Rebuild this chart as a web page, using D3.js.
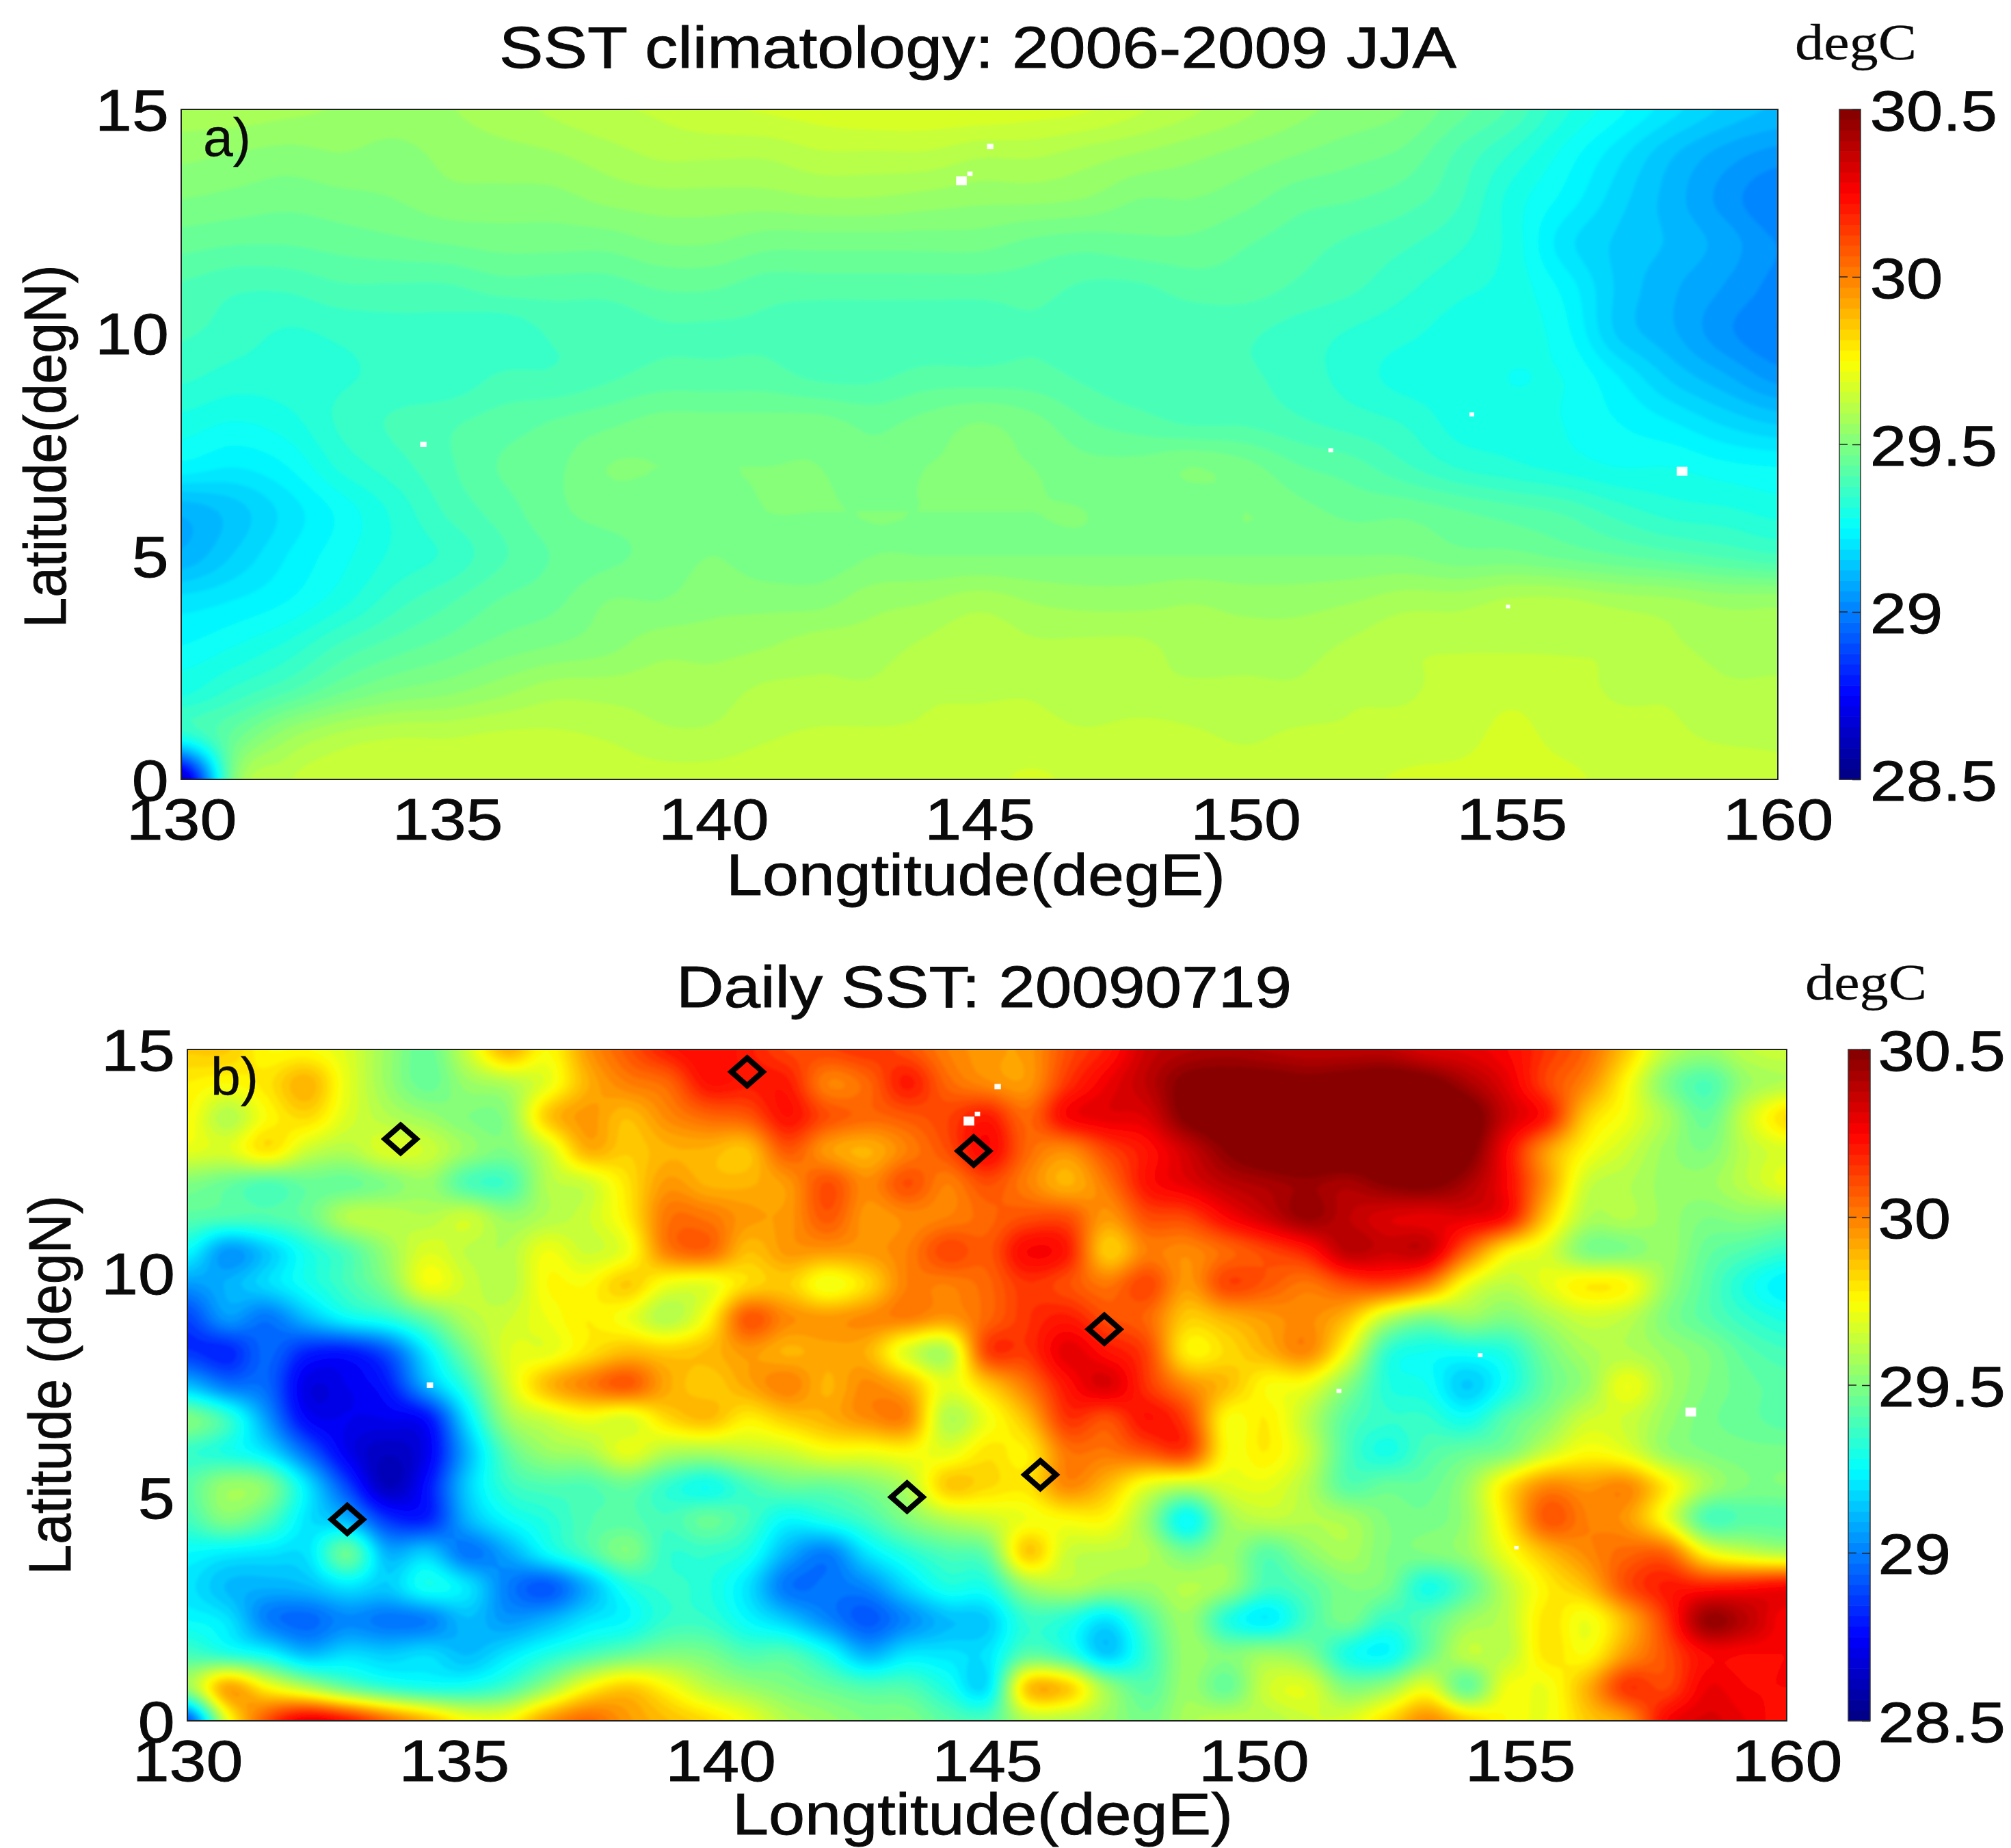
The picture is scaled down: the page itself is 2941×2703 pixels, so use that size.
<!DOCTYPE html>
<html>
<head>
<meta charset="utf-8">
<script src="https://cdn.jsdelivr.net/npm/d3@7"></script>
<style>
  body { margin: 0; background: #fff; }
  text { fill: #0a0a0a; stroke: #0a0a0a; stroke-width: 0.9px; font-family: "Liberation Sans", Arial, sans-serif; }
</style>
</head>
<body>
<div id="chart"></div>
<script>
// tick labels
const lonTicks = [130, 135, 140, 145, 150, 155, 160];
const latTicks = [0, 5, 10, 15];
const sstTicks = [28.5, 29, 29.5, 30, 30.5];

// panel a: JJA climatology, 1 deg grid, rows from 15N down to 0N, columns 130E to 160E
const climatology = [
  [29.58,29.58,29.57,29.56,29.55,29.56,29.58,29.6,29.62,29.63,29.65,29.66,29.67,29.68,29.68,29.68,29.67,29.66,29.63,29.6,29.57,29.54,29.52,29.5,29.45,29.4,29.32,29.26,29.2,29.15,29.12],
  [29.54,29.53,29.52,29.53,29.52,29.54,29.55,29.56,29.58,29.6,29.6,29.6,29.62,29.62,29.62,29.6,29.6,29.58,29.56,29.54,29.52,29.5,29.48,29.46,29.4,29.34,29.27,29.2,29.13,29.08,29.05],
  [29.5,29.49,29.48,29.49,29.5,29.52,29.52,29.52,29.54,29.55,29.55,29.55,29.56,29.56,29.55,29.54,29.54,29.53,29.5,29.5,29.48,29.45,29.44,29.42,29.38,29.3,29.24,29.17,29.11,29.05,29.0],
  [29.45,29.44,29.44,29.45,29.46,29.47,29.48,29.48,29.48,29.5,29.5,29.48,29.48,29.48,29.48,29.48,29.46,29.45,29.46,29.46,29.44,29.42,29.4,29.38,29.35,29.3,29.2,29.15,29.12,29.08,29.03],
  [29.4,29.38,29.38,29.4,29.4,29.4,29.42,29.42,29.42,29.44,29.44,29.42,29.42,29.42,29.42,29.42,29.42,29.4,29.4,29.42,29.42,29.4,29.38,29.35,29.32,29.3,29.24,29.15,29.1,29.06,29.02],
  [29.38,29.36,29.34,29.35,29.36,29.36,29.35,29.38,29.38,29.4,29.4,29.4,29.38,29.38,29.38,29.38,29.4,29.38,29.38,29.38,29.38,29.36,29.34,29.32,29.3,29.3,29.26,29.15,29.1,29.04,29.0],
  [29.35,29.33,29.33,29.34,29.35,29.35,29.38,29.38,29.4,29.42,29.42,29.42,29.4,29.4,29.42,29.42,29.42,29.4,29.38,29.38,29.38,29.36,29.33,29.3,29.3,29.28,29.28,29.22,29.15,29.1,29.05],
  [29.3,29.28,29.3,29.35,29.38,29.4,29.42,29.44,29.46,29.48,29.48,29.48,29.48,29.46,29.48,29.5,29.48,29.44,29.42,29.4,29.4,29.38,29.36,29.34,29.3,29.3,29.28,29.25,29.22,29.18,29.15],
  [29.24,29.22,29.25,29.32,29.36,29.4,29.44,29.46,29.5,29.5,29.5,29.5,29.5,29.48,29.5,29.5,29.5,29.48,29.48,29.5,29.48,29.44,29.42,29.38,29.34,29.32,29.3,29.28,29.28,29.26,29.25],
  [29.1,29.14,29.2,29.26,29.32,29.38,29.42,29.46,29.48,29.48,29.48,29.5,29.5,29.5,29.5,29.5,29.5,29.5,29.48,29.48,29.5,29.48,29.46,29.46,29.44,29.42,29.4,29.36,29.33,29.32,29.3],
  [29.1,29.16,29.22,29.27,29.32,29.35,29.4,29.44,29.46,29.48,29.5,29.48,29.48,29.5,29.5,29.5,29.5,29.5,29.5,29.5,29.5,29.5,29.5,29.5,29.48,29.48,29.46,29.44,29.42,29.4,29.38],
  [29.2,29.22,29.25,29.3,29.36,29.4,29.44,29.46,29.5,29.5,29.52,29.52,29.52,29.55,29.56,29.58,29.56,29.55,29.55,29.56,29.55,29.55,29.56,29.58,29.58,29.6,29.6,29.58,29.57,29.55,29.55],
  [29.25,29.28,29.32,29.38,29.42,29.45,29.48,29.5,29.52,29.55,29.55,29.56,29.58,29.58,29.6,29.62,29.6,29.6,29.6,29.58,29.58,29.58,29.6,29.62,29.62,29.62,29.62,29.62,29.6,29.58,29.58],
  [29.3,29.35,29.4,29.46,29.5,29.52,29.55,29.58,29.58,29.58,29.58,29.6,29.6,29.6,29.62,29.62,29.62,29.6,29.6,29.6,29.6,29.6,29.62,29.62,29.64,29.65,29.64,29.62,29.62,29.6,29.6],
  [29.32,29.45,29.55,29.6,29.62,29.62,29.63,29.63,29.62,29.6,29.6,29.62,29.63,29.63,29.63,29.64,29.64,29.63,29.64,29.63,29.62,29.63,29.63,29.64,29.65,29.66,29.65,29.64,29.63,29.62,29.62],
  [28.6,29.5,29.62,29.65,29.65,29.65,29.65,29.65,29.65,29.64,29.64,29.65,29.65,29.65,29.65,29.65,29.66,29.65,29.65,29.65,29.64,29.65,29.65,29.66,29.66,29.66,29.66,29.65,29.64,29.64,29.63]
];

// panel b: daily SST 20090719, 0.75 deg grid, rows from 15N down to 0N, columns 130E to 160E
const dailySst = [
  [29.85,29.85,29.75,29.75,29.68,29.55,29.45,29.65,29.9,29.75,29.95,30.08,30.2,30.25,30.2,30.12,30.12,30.15,30.1,30.0,29.95,29.95,30.1,30.2,30.35,30.4,30.42,30.4,30.38,30.38,30.38,30.32,30.3,30.25,30.15,30.05,29.85,29.62,29.55,29.62,29.65],
  [29.78,29.75,29.8,29.9,29.7,29.55,29.45,29.55,29.6,29.7,29.9,30.0,30.05,30.22,30.2,30.2,30.0,30.05,30.2,30.05,29.98,29.95,30.15,30.28,30.38,30.5,30.52,30.52,30.5,30.52,30.55,30.52,30.42,30.3,30.12,29.98,29.75,29.5,29.4,29.55,29.6],
  [29.75,29.6,29.75,29.82,29.68,29.6,29.55,29.5,29.52,29.85,29.95,29.88,29.98,30.05,30.08,30.22,30.1,30.05,30.08,30.12,30.2,30.05,30.25,30.3,30.32,30.5,30.55,30.55,30.55,30.55,30.6,30.6,30.55,30.35,30.2,29.85,29.72,29.58,29.45,29.65,29.82],
  [29.7,29.68,29.8,29.65,29.6,29.68,29.65,29.55,29.5,29.65,29.9,29.85,29.9,29.9,29.87,30.08,29.95,29.9,30.0,30.1,30.25,30.05,29.98,30.12,30.22,30.35,30.48,30.55,30.6,30.58,30.6,30.58,30.52,30.25,29.95,29.75,29.65,29.55,29.5,29.62,29.68],
  [29.5,29.45,29.4,29.45,29.45,29.5,29.55,29.4,29.38,29.6,29.65,29.8,29.95,29.9,29.9,29.95,30.1,29.98,30.1,30.0,30.1,30.0,29.9,30.02,30.22,30.3,30.38,30.42,30.45,30.42,30.48,30.5,30.42,30.25,29.95,29.65,29.6,29.55,29.55,29.62,29.7],
  [29.42,29.4,29.4,29.45,29.6,29.62,29.6,29.65,29.55,29.6,29.65,29.78,30.02,30.02,29.95,29.95,30.08,29.95,29.98,30.0,30.05,30.1,30.1,29.95,30.1,30.12,30.25,30.35,30.45,30.38,30.32,30.3,30.3,30.22,29.85,29.6,29.6,29.55,29.5,29.52,29.5],
  [29.25,29.05,29.15,29.3,29.4,29.55,29.68,29.62,29.6,29.72,29.65,29.72,30.0,30.05,29.88,29.95,29.95,29.95,30.0,30.12,30.08,30.25,30.2,29.85,30.0,29.98,30.05,30.12,30.2,30.38,30.35,30.35,30.05,29.78,29.68,29.5,29.5,29.55,29.45,29.4,29.35],
  [29.05,29.1,29.18,29.28,29.38,29.5,29.72,29.65,29.6,29.75,29.75,29.85,29.72,29.7,29.82,29.85,29.72,29.82,30.0,30.0,30.05,30.15,30.1,30.02,30.12,29.95,30.12,30.08,30.02,30.1,30.12,30.0,29.72,29.62,29.7,29.78,29.75,29.55,29.42,29.3,29.22],
  [28.88,29.05,28.98,29.12,29.25,29.32,29.45,29.6,29.65,29.72,29.78,29.72,29.6,29.75,30.08,29.98,29.95,29.98,30.0,29.95,30.05,30.15,30.2,30.1,30.05,29.85,29.9,29.95,29.98,29.88,29.62,29.5,29.55,29.5,29.58,29.65,29.62,29.5,29.42,29.35,29.3],
  [28.85,28.82,28.95,28.82,28.8,28.92,29.22,29.48,29.68,29.7,29.8,29.88,29.85,29.88,29.95,29.9,29.92,29.9,29.68,29.6,30.12,30.15,30.3,30.22,30.12,29.78,29.82,29.9,29.98,29.72,29.35,29.28,29.28,29.32,29.48,29.58,29.6,29.55,29.5,29.42,29.38],
  [29.12,28.98,28.95,28.7,28.72,28.8,29.1,29.35,29.65,29.88,30.0,30.08,29.92,29.85,29.92,30.0,29.9,29.98,29.9,29.7,29.85,30.02,30.22,30.32,30.15,29.98,29.88,29.75,29.72,29.52,29.32,29.28,29.15,29.28,29.45,29.55,29.72,29.58,29.5,29.45,29.42],
  [29.5,29.35,29.05,28.75,28.72,28.72,28.78,29.2,29.55,29.65,29.72,29.68,29.82,29.88,29.78,29.85,29.9,29.97,29.98,29.6,29.72,29.88,30.15,30.1,30.22,30.12,29.75,29.78,29.62,29.42,29.35,29.35,29.28,29.42,29.52,29.65,29.65,29.55,29.48,29.45,29.42],
  [29.35,29.3,29.2,28.95,28.72,28.63,28.72,29.1,29.42,29.55,29.58,29.7,29.6,29.58,29.62,29.65,29.72,29.72,29.75,29.7,29.8,29.78,30.02,30.02,30.08,30.12,29.75,29.78,29.65,29.4,29.3,29.4,29.45,29.5,29.65,29.75,29.7,29.55,29.5,29.48,29.48],
  [29.42,29.55,29.5,29.2,28.88,28.62,28.78,29.15,29.35,29.4,29.4,29.45,29.35,29.28,29.38,29.45,29.45,29.5,29.6,29.85,29.82,29.8,29.98,29.88,29.7,29.62,29.68,29.7,29.6,29.42,29.45,29.45,29.55,29.8,29.98,29.95,29.98,29.78,29.58,29.5,29.5],
  [29.38,29.5,29.4,29.2,29.1,28.85,28.82,29.1,29.25,29.32,29.4,29.42,29.38,29.45,29.38,29.25,29.3,29.38,29.5,29.6,29.65,29.72,29.75,29.75,29.55,29.25,29.55,29.62,29.6,29.58,29.5,29.48,29.55,29.8,30.08,30.0,29.95,29.72,29.4,29.42,29.42],
  [29.25,29.22,29.2,29.2,29.45,29.1,29.15,28.98,29.08,29.25,29.38,29.5,29.35,29.35,29.3,29.1,29.0,29.2,29.32,29.4,29.45,29.85,29.65,29.62,29.6,29.48,29.55,29.42,29.52,29.58,29.5,29.5,29.55,29.72,29.88,29.98,30.05,30.05,29.75,29.65,29.6],
  [29.2,29.12,29.1,29.12,29.2,29.15,29.28,29.2,29.0,28.92,29.1,29.3,29.35,29.32,29.2,28.98,28.98,29.02,29.18,29.3,29.3,29.55,29.6,29.55,29.55,29.6,29.55,29.38,29.42,29.5,29.48,29.3,29.42,29.62,29.78,29.88,30.1,30.2,30.2,30.22,30.25],
  [29.25,29.2,29.0,28.95,29.02,28.98,29.0,29.12,29.05,29.1,29.2,29.25,29.35,29.35,29.25,29.15,29.02,28.92,29.02,29.12,29.15,29.35,29.32,29.2,29.4,29.55,29.32,29.22,29.38,29.48,29.35,29.42,29.55,29.62,29.8,29.72,29.9,30.15,30.45,30.38,30.25],
  [29.38,29.32,29.25,29.12,29.18,29.15,29.18,29.12,29.2,29.3,29.38,29.45,29.5,29.48,29.4,29.4,29.28,29.1,29.2,29.2,29.2,29.42,29.35,29.15,29.35,29.55,29.5,29.55,29.5,29.3,29.25,29.45,29.62,29.62,29.8,29.75,29.95,30.1,30.25,30.25,30.25],
  [29.55,29.92,29.75,29.6,29.45,29.35,29.3,29.3,29.38,29.55,29.75,29.85,29.75,29.62,29.55,29.5,29.45,29.4,29.4,29.3,29.2,29.85,29.85,29.55,29.42,29.55,29.45,29.65,29.68,29.5,29.55,29.7,29.45,29.72,29.72,29.9,30.15,30.12,30.28,30.25,30.25],
  [28.9,29.7,30.1,30.3,30.22,30.05,29.9,29.75,29.75,29.95,30.05,29.95,29.88,29.82,29.72,29.6,29.55,29.5,29.5,29.42,29.4,29.6,29.6,29.55,29.48,29.58,29.62,29.6,29.65,29.68,29.82,29.98,29.85,29.75,29.72,29.85,29.95,30.25,30.32,30.28,30.22]
];

// buoy / station positions on panel b
const stationLon = [134, 140.5, 144.75, 147.2, 146, 143.5, 133];
const stationLat = [13, 14.5, 12.73, 8.75, 5.5, 5, 4.5];

// missing data cells (white on both panels), sizes in degrees
const missingLon = [134.55, 144.66, 144.82, 145.2, 151.6, 154.25, 154.93, 158.2];
const missingLat = [7.5, 13.4, 13.56, 14.17, 7.37, 8.17, 3.87, 6.9];
const missingDeg = [0.12, 0.2, 0.1, 0.12, 0.09, 0.09, 0.08, 0.2];

// jet colormap, same as matlab default
const jet = d3.scaleLinear()
  .domain([28.5, 28.75, 29.25, 29.75, 30.25, 30.5])
  .range(["#000080", "#0000ff", "#00ffff", "#ffff00", "#ff0000", "#800000"])
  .clamp(true);

// matlab colormap has 64 steps
const nBands = 64;
const bandEdges = d3.range(nBands).map(i => 28.5 + i * 2 / nBands);
const bandColor = t => jet(t + 1 / nBands);

const svg = d3.select("#chart").append("svg")
  .attr("width", 2941)
  .attr("height", 2703)
  .style("display", "block");

// slight softening, the original is a jpeg
svg.append("filter").attr("id", "soft")
  .attr("x", 0).attr("y", 0).attr("width", 1).attr("height", 1)
  .append("feGaussianBlur").attr("stdDeviation", 2.2);

// catmull-rom resampling so the contours look like the shaded original
function catmull(p0, p1, p2, p3, t) {
  return 0.5 * (2 * p1 + (p2 - p0) * t + (2 * p0 - 5 * p1 + 4 * p2 - p3) * t * t + (3 * p1 - p0 - 3 * p2 + p3) * t * t * t);
}

function resample(grid, k) {
  const rows = grid.length, cols = grid[0].length;
  const w = (cols - 1) * k + 1, h = (rows - 1) * k + 1;
  const out = new Float64Array(w * h);
  const at = (r, c) => grid[Math.max(0, Math.min(rows - 1, r))][Math.max(0, Math.min(cols - 1, c))];
  for (let j = 0; j < h; j++) {
    const r = Math.floor(j / k), ty = j / k - r;
    for (let i = 0; i < w; i++) {
      const c = Math.floor(i / k), tx = i / k - c;
      const col = [-1, 0, 1, 2].map(d => catmull(at(r + d, c - 1), at(r + d, c), at(r + d, c + 1), at(r + d, c + 2), tx));
      out[j * w + i] = catmull(col[0], col[1], col[2], col[3], ty);
    }
  }
  return {values: out, w, h};
}

function drawPanel(p) {
  const x = d3.scaleLinear().domain([130, 160]).range([p.left, p.right]);
  const y = d3.scaleLinear().domain([0, 15]).range([p.bottom, p.top]);

  const clipId = "clip-" + p.name;
  svg.append("clipPath").attr("id", clipId)
    .append("rect")
    .attr("x", p.left).attr("y", p.top)
    .attr("width", p.right - p.left).attr("height", p.bottom - p.top);

  const plot = svg.append("g").attr("clip-path", `url(#${clipId})`);
  const bands = plot.append("g").attr("filter", "url(#soft)");

  bands.append("rect")
    .attr("x", p.left).attr("y", p.top)
    .attr("width", p.right - p.left).attr("height", p.bottom - p.top)
    .attr("fill", jet(28.6));

  // filled contours
  const field = resample(p.grid, p.upsample);
  const gridLon = d3.scaleLinear().domain([0.5, field.w - 0.5]).range([130, 160]);
  const gridLat = d3.scaleLinear().domain([0.5, field.h - 0.5]).range([15, 0]);
  const path = d3.geoPath(d3.geoTransform({
    point(a, b) { this.stream.point(x(gridLon(a)), y(gridLat(b))); }
  }));
  const contours = d3.contours().size([field.w, field.h]).thresholds(bandEdges)(field.values);
  bands.selectAll("path.band")
    .data(contours)
    .join("path")
    .attr("class", "band")
    .attr("d", path)
    .attr("fill", d => bandColor(d.value));

  // missing cells
  plot.selectAll("rect.missing")
    .data(missingLon)
    .join("rect")
    .attr("class", "missing")
    .attr("x", (d, i) => x(d - missingDeg[i] / 2))
    .attr("y", (d, i) => y(missingLat[i] + missingDeg[i] / 2))
    .attr("width", (d, i) => x(d + missingDeg[i] / 2) - x(d - missingDeg[i] / 2))
    .attr("height", (d, i) => y(missingLat[i] - missingDeg[i] / 2) - y(missingLat[i] + missingDeg[i] / 2))
    .attr("fill", "#fff");

  // stations
  if (p.stations) {
    svg.selectAll("path.station")
      .data(stationLon)
      .join("path")
      .attr("class", "station")
      .attr("transform", (d, i) => `translate(${x(d)},${y(stationLat[i])}) scale(1.08,0.95)`)
      .attr("d", d3.symbol().type(d3.symbolDiamond2).size(1150))
      .attr("fill", "none")
      .attr("stroke", "#000")
      .attr("stroke-width", 8);
  }

  // frame
  svg.append("rect")
    .attr("x", p.left).attr("y", p.top)
    .attr("width", p.right - p.left).attr("height", p.bottom - p.top)
    .attr("fill", "none")
    .attr("stroke", "#222")
    .attr("stroke-width", 2);

  // axes
  const xAxis = svg.append("g")
    .attr("transform", `translate(0,${p.bottom})`)
    .call(d3.axisBottom(x).tickValues(lonTicks).tickSize(0));
  xAxis.select(".domain").remove();
  xAxis.selectAll("text")
    .attr("y", 88).attr("dy", 0)
    .attr("font-size", 85)
    .attr("transform", "scale(1.14,1)");

  const yAxis = svg.append("g")
    .attr("transform", `translate(${p.left},0)`)
    .call(d3.axisLeft(y).tickValues(latTicks).tickSize(0));
  yAxis.select(".domain").remove();
  yAxis.selectAll("text")
    .attr("x", -16).attr("dy", "0.36em")
    .attr("font-size", 85)
    .attr("transform", "scale(1.14,1)");

  // colorbar
  const c = d3.scaleLinear().domain([28.5, 30.5]).range([p.bottom, p.top]);
  svg.selectAll("rect.cb-" + p.name)
    .data(bandEdges)
    .join("rect")
    .attr("class", "cb-" + p.name)
    .attr("x", p.cbLeft)
    .attr("y", d => c(d + 2 / nBands))
    .attr("width", p.cbRight - p.cbLeft)
    .attr("height", (c.range()[0] - c.range()[1]) / nBands + 0.6)
    .attr("fill", d => bandColor(d));
  svg.append("rect")
    .attr("x", p.cbLeft).attr("y", p.top)
    .attr("width", p.cbRight - p.cbLeft).attr("height", p.bottom - p.top)
    .attr("fill", "none")
    .attr("stroke", "#333")
    .attr("stroke-width", 1.5);

  const cbAxis = svg.append("g")
    .attr("transform", `translate(${p.cbRight},0)`)
    .call(d3.axisRight(c).tickValues(sstTicks).tickFormat(d3.format("")).tickSize(-12));
  cbAxis.select(".domain").remove();
  cbAxis.selectAll("line").attr("stroke", "#222").attr("stroke-width", 1.5);
  cbAxis.selectAll("text")
    .attr("x", p.cbGap).attr("dy", "0.36em")
    .attr("font-size", 84)
    .attr("transform", "scale(1.14,1)");
  // tick stubs on the left edge of the bar
  svg.selectAll("line.cb-left-" + p.name)
    .data(sstTicks.slice(1, 4))
    .join("line")
    .attr("class", "cb-left-" + p.name)
    .attr("x1", p.cbLeft).attr("x2", p.cbLeft + 12)
    .attr("y1", d => c(d)).attr("y2", d => c(d))
    .attr("stroke", "#222").attr("stroke-width", 1.5);

  // titles and labels, fitted to the measured width
  const label = (txt, tx, ty, len, size) => svg.append("text")
    .attr("x", tx).attr("y", ty)
    .attr("text-anchor", "middle")
    .attr("font-size", size)
    .attr("textLength", len)
    .attr("lengthAdjust", "spacingAndGlyphs")
    .text(txt);
  label(p.title, p.titleX, p.titleY, p.titleLen, 86);
  label(p.xLabel, p.xLabelX, p.xLabelY, p.xLabelLen, 86);
  svg.append("text")
    .attr("transform", `translate(${p.yLabelX},${p.yLabelY}) rotate(-90)`)
    .attr("text-anchor", "middle")
    .attr("font-size", 88)
    .attr("textLength", p.yLabelLen)
    .attr("lengthAdjust", "spacingAndGlyphs")
    .text(p.yLabel);
  label("degC", p.unitX, p.unitY, 178, 75)
    .style("font-family", '"Liberation Serif", serif')
    .style("stroke-width", "0.3px");
  svg.append("text")
    .attr("x", p.tagX).attr("y", p.tagY)
    .attr("font-size", 77)
    .attr("textLength", 70)
    .attr("lengthAdjust", "spacingAndGlyphs")
    .style("stroke-width", "0.3px")
    .text(p.tag);
}

drawPanel({
  name: "a", grid: climatology, upsample: 6, stations: false,
  left: 265, right: 2600, top: 160, bottom: 1140,
  cbLeft: 2690, cbRight: 2721, cbGap: 12,
  title: "SST climatology: 2006-2009 JJA", titleX: 1430, titleY: 99, titleLen: 1400,
  xLabel: "Longtitude(degE)", xLabelX: 1427, xLabelY: 1309, xLabelLen: 730,
  yLabel: "Latitude(degN)", yLabelX: 96, yLabelY: 653, yLabelLen: 531,
  unitX: 2714, unitY: 87, tag: "a)", tagX: 297, tagY: 228
});

drawPanel({
  name: "b", grid: dailySst, upsample: 8, stations: true,
  left: 274, right: 2613, top: 1535, bottom: 2517,
  cbLeft: 2703, cbRight: 2735, cbGap: 10,
  title: "Daily SST: 20090719", titleX: 1439, titleY: 1473, titleLen: 900,
  xLabel: "Longtitude(degE)", xLabelX: 1437, xLabelY: 2683, xLabelLen: 732,
  yLabel: "Latitude (degN)", yLabelX: 103, yLabelY: 2026, yLabelLen: 555,
  unitX: 2729, unitY: 1462, tag: "b)", tagX: 308, tagY: 1602
});
</script>
</body>
</html>
